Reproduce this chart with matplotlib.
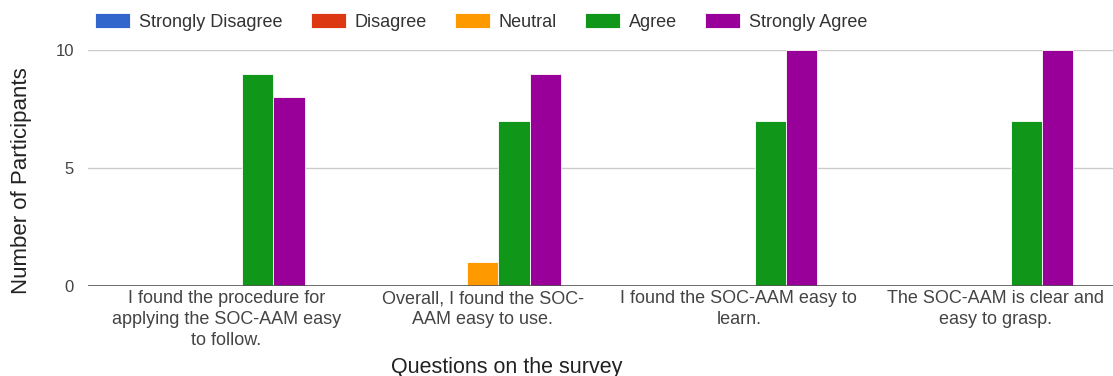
import matplotlib.pyplot as plt
import numpy as np

plt.rcParams['font.family'] = ['Liberation Sans', 'DejaVu Sans']

questions = [
    "I found the procedure for\napplying the SOC-AAM easy\nto follow.",
    "Overall, I found the SOC-\nAAM easy to use.",
    "I found the SOC-AAM easy to\nlearn.",
    "The SOC-AAM is clear and\neasy to grasp.",
]
responses = ["Strongly Disagree", "Disagree", "Neutral", "Agree", "Strongly Agree"]
strongly_disagree = [0, 0, 0, 0]
disagree = [0, 0, 0, 0]
neutral = [0, 1, 0, 0]
agree = [9, 7, 7, 7]
strongly_agree = [8, 9, 10, 10]

series = [strongly_disagree, disagree, neutral, agree, strongly_agree]
colors = ["#3366cc", "#dc3912", "#ff9900", "#109618", "#990099"]

fig = plt.figure(figsize=(11.13, 3.76), dpi=100)
ax = fig.add_axes([88 / 1113, 1 - 286 / 376, 1 - 88 / 1113, (286 - 50) / 376])

x = np.arange(len(questions))
w = 0.122
for i, (vals, c, lab) in enumerate(zip(series, colors, responses)):
    ax.bar(x + (i - 2) * w, vals, width=w, color=c, label=lab,
           edgecolor='white', linewidth=0.6, zorder=3)

ax.set_xlim(-0.54, 3.46)
ax.set_ylim(0, 10)
ax.set_yticks([0, 5, 10])
ax.yaxis.grid(True, color='#cccccc', linewidth=1, zorder=0)
ax.axhline(0, color='#555555', linewidth=1.2, zorder=4)
for s in ax.spines.values():
    s.set_visible(False)
ax.tick_params(axis='both', length=0, labelcolor='#444444')
ax.tick_params(axis='y', pad=10, labelsize=12)
ax.set_xticks(x)
ax.set_xticklabels(questions, fontsize=13, color='#444444', linespacing=1.32)
ax.tick_params(axis='x', pad=3)

ax.set_ylabel("Number of Participants", fontsize=16, color='#222222')
ax.yaxis.set_label_coords(-0.055, 0.445)
ax.set_xlabel("Questions on the survey", fontsize=15.5, color='#222222', va='center')
ax.xaxis.set_label_coords(0.408, -0.345)

leg = fig.legend(loc='upper left', bbox_to_anchor=(95 / 1113, 1 - 13 / 376), ncol=5,
                 frameon=False, fontsize=13, handlelength=1.94, handleheight=0.89,
                 columnspacing=1.55, handletextpad=0.5, borderpad=0,
                 borderaxespad=0, labelcolor='#333333')

fig.savefig("out.png", dpi=100)
